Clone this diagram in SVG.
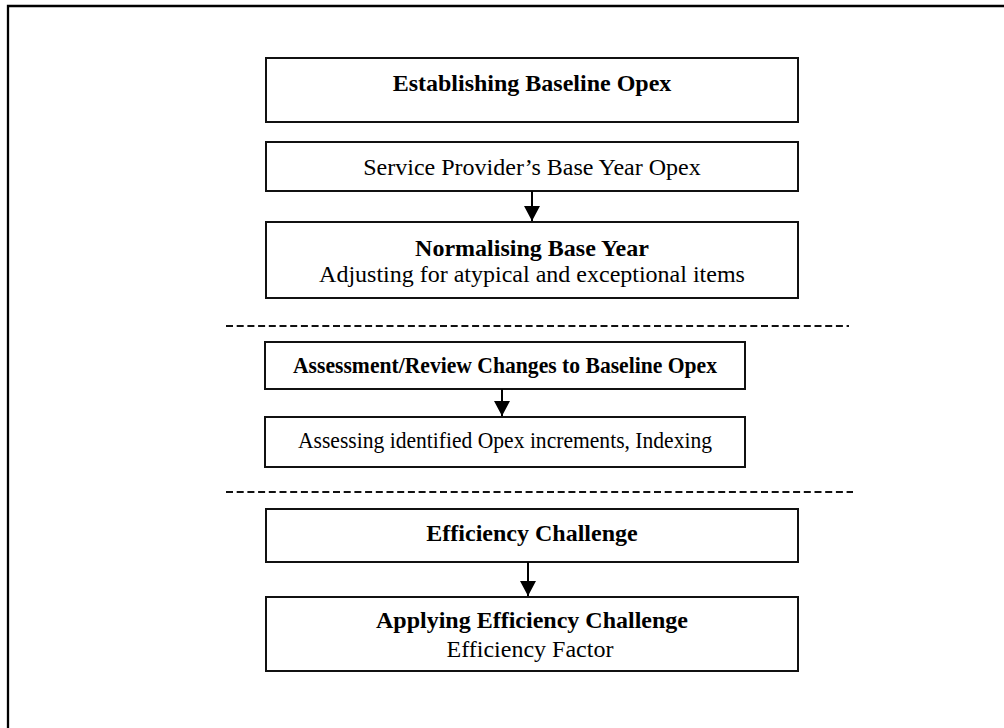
<svg xmlns="http://www.w3.org/2000/svg" width="1004" height="728" viewBox="0 0 1004 728">
  <defs>
    <style>
      .box { fill: #ffffff; stroke: #111111; stroke-width: 2; }
      .frame { fill: none; stroke: #000000; stroke-width: 2.3; }
      .sep { fill: none; stroke: #111111; stroke-width: 2; stroke-dasharray: 7 3.7; }
      .link { fill: none; stroke: #000000; stroke-width: 2; }
      text { font-family: "Liberation Serif", "Times New Roman", serif; font-size: 24px; fill: #000000; text-anchor: middle; }
      .b { font-weight: bold; }
    </style>
    <!-- filled triangular arrowhead, tip at the end of the line -->
    <marker id="head" viewBox="0 0 15 16" refX="15" refY="8" markerWidth="15" markerHeight="16" markerUnits="userSpaceOnUse" orient="auto">
      <path d="M0,0 L15,8 L0,16 Z" fill="#000000"/>
    </marker>
  </defs>

  <rect x="0" y="0" width="1004" height="728" fill="#ffffff"/>

  <!-- page frame: open to the right and bottom -->
  <path class="frame" d="M8,728 V6 H1004"/>

  <!-- section separators -->
  <g id="separators">
    <line class="sep" x1="226" y1="326" x2="849" y2="326"/>
    <line class="sep" x1="226" y1="492" x2="853" y2="492"/>
  </g>

  <g id="n-establishing">
    <rect class="box" x="266" y="58" width="532" height="64"/>
    <text class="b" x="532" y="91">Establishing Baseline Opex</text>
  </g>

  <g id="n-base-year">
    <rect class="box" x="266" y="142" width="532" height="49"/>
    <text x="532" y="175">Service Provider’s Base Year Opex</text>
  </g>

  <g id="n-normalising">
    <rect class="box" x="266" y="222" width="532" height="76"/>
    <text class="b" x="532" y="256">Normalising Base Year</text>
    <text x="532" y="282">Adjusting for atypical and exceptional items</text>
  </g>

  <g id="n-assessment">
    <rect class="box" x="265" y="342" width="480" height="47"/>
    <text class="b" x="505" y="373" textLength="424" lengthAdjust="spacingAndGlyphs">Assessment/Review Changes to Baseline Opex</text>
  </g>

  <g id="n-increments">
    <rect class="box" x="265" y="417" width="480" height="50"/>
    <text x="505" y="448" textLength="414" lengthAdjust="spacingAndGlyphs">Assessing identified Opex increments, Indexing</text>
  </g>

  <g id="n-efficiency">
    <rect class="box" x="266" y="509" width="532" height="53"/>
    <text class="b" x="532" y="541">Efficiency Challenge</text>
  </g>

  <g id="n-applying">
    <rect class="box" x="266" y="597" width="532" height="74"/>
    <text class="b" x="532" y="628">Applying Efficiency Challenge</text>
    <text x="530" y="657">Efficiency Factor</text>
  </g>

  <g id="connectors">
    <line class="link" x1="532" y1="191" x2="532" y2="221" marker-end="url(#head)"/>
    <line class="link" x1="502" y1="389" x2="502" y2="416" marker-end="url(#head)"/>
    <line class="link" x1="528" y1="562" x2="528" y2="596" marker-end="url(#head)"/>
  </g>
</svg>
